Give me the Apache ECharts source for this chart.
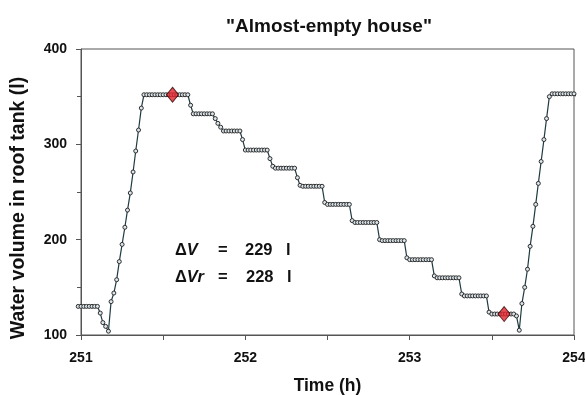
<!DOCTYPE html>
<html>
<head>
<meta charset="utf-8">
<script src="https://cdn.jsdelivr.net/npm/echarts/dist/echarts.min.js"></script>
<style>
html,body{margin:0;padding:0;background:#ffffff;}
#chart{width:585px;height:395px;}
</style>
</head>
<body>
<div id="chart"></div>
<script>
// Sample times (h) and water volume (l), one sample per minute
const timeH = [
  250.983, 251.000, 251.017, 251.033, 251.050, 251.067, 251.083, 251.100, 251.117, 251.133,
  251.150, 251.167, 251.183, 251.200, 251.217, 251.233, 251.250, 251.267, 251.283, 251.300,
  251.317, 251.333, 251.350, 251.367, 251.383, 251.400, 251.417, 251.433, 251.450, 251.467,
  251.483, 251.500, 251.517, 251.533, 251.550, 251.567, 251.583, 251.600, 251.617, 251.633,
  251.650, 251.667, 251.683, 251.700, 251.717, 251.733, 251.750, 251.767, 251.783, 251.800,
  251.817, 251.833, 251.850, 251.867, 251.883, 251.900, 251.917, 251.933, 251.950, 251.967,
  251.983, 252.000, 252.017, 252.033, 252.050, 252.067, 252.083, 252.100, 252.117, 252.133,
  252.150, 252.167, 252.183, 252.200, 252.217, 252.233, 252.250, 252.267, 252.283, 252.300,
  252.317, 252.333, 252.350, 252.367, 252.383, 252.400, 252.417, 252.433, 252.450, 252.467,
  252.483, 252.500, 252.517, 252.533, 252.550, 252.567, 252.583, 252.600, 252.617, 252.633,
  252.650, 252.667, 252.683, 252.700, 252.717, 252.733, 252.750, 252.767, 252.783, 252.800,
  252.817, 252.833, 252.850, 252.867, 252.883, 252.900, 252.917, 252.933, 252.950, 252.967,
  252.983, 253.000, 253.017, 253.033, 253.050, 253.067, 253.083, 253.100, 253.117, 253.133,
  253.150, 253.167, 253.183, 253.200, 253.217, 253.233, 253.250, 253.267, 253.283, 253.300,
  253.317, 253.333, 253.350, 253.367, 253.383, 253.400, 253.417, 253.433, 253.450, 253.467,
  253.483, 253.500, 253.517, 253.533, 253.550, 253.567, 253.583, 253.600, 253.617, 253.633,
  253.650, 253.667, 253.683, 253.700, 253.717, 253.733, 253.750, 253.767, 253.783, 253.800,
  253.817, 253.833, 253.850, 253.867, 253.883, 253.900, 253.917, 253.933, 253.950, 253.967,
  253.983, 254.000, 254.017, 254.033
];
const volumeL = [
  130, 130, 130, 130, 130, 130, 130, 130, 123, 113,
  109, 104, 135, 144, 158, 177, 195, 213, 231, 249,
  271, 293, 315, 338, 352, 352, 352, 352, 352, 352,
  352, 352, 352, 352, 352, 352, 352, 352, 352, 352,
  352, 341, 332, 332, 332, 332, 332, 332, 332, 332,
  327, 322, 318, 314, 314, 314, 314, 314, 314, 314,
  305, 294, 294, 294, 294, 294, 294, 294, 294, 294,
  285, 277, 275, 275, 275, 275, 275, 275, 275, 275,
  265, 257, 256, 256, 256, 256, 256, 256, 256, 256,
  239, 237, 237, 237, 237, 237, 237, 237, 237, 237,
  220, 218, 218, 218, 218, 218, 218, 218, 218, 218,
  200, 199, 199, 199, 199, 199, 199, 199, 199, 199,
  181, 179, 179, 179, 179, 179, 179, 179, 179, 179,
  162, 160, 160, 160, 160, 160, 160, 160, 160, 160,
  143, 141, 141, 141, 141, 141, 141, 141, 141, 141,
  124, 122, 122, 122, 122, 122, 122, 122, 122, 122,
  120, 105, 133, 150, 169, 193, 214, 237, 259, 282,
  305, 327, 350, 353, 353, 353, 353, 353, 353, 353,
  353, 353, 350, 347
];
// Highlighted points (red diamonds)
const markTime = [251.557, 253.575];
const markVolume = [352, 122];
// Axis ticks
const xTicks = [251, 252, 253, 254];
const yTicks = [100, 200, 300, 400];
// Texts
const chartTitle = '"Almost-empty house"';
const xTitle = 'Time (h)';
const yTitle = 'Water volume in roof tank (l)';
const annoLabels = ['{d|Δ}{v|V}', '{d|Δ}{v|Vr}'];
const annoValues = ['229', '228'];
const annoUnit = 'l';

const FONT = '"Liberation Sans", Arial, Helvetica, sans-serif';
const xMax = xTicks[xTicks.length - 1];
const lineData = timeH.map((t, i) => {
  const item = { value: [t, volumeL[i]] };
  if (t > xMax) item.symbol = 'none';
  return item;
});
const markData = markTime.map((t, i) => [t, markVolume[i]]);

const rich = {
  d: { fontFamily: FONT, fontWeight: 'bold', fontSize: 16.5, fill: '#111' },
  v: { fontFamily: FONT, fontWeight: 'bold', fontStyle: 'italic', fontSize: 16.5, fill: '#111' }
};
const annoY = [250, 277];
const graphics = [];
annoLabels.forEach((lab, i) => {
  graphics.push({ type: 'text', x: 175, y: annoY[i], style: { text: lab, rich: rich, verticalAlign: 'middle', align: 'left', fill: '#111' } });
  graphics.push({ type: 'text', x: 218, y: annoY[i], style: { text: '=', font: 'bold 16.5px ' + FONT, verticalAlign: 'middle', fill: '#111' } });
  graphics.push({ type: 'text', x: 245 + i, y: annoY[i], style: { text: annoValues[i], font: 'bold 16.5px ' + FONT, verticalAlign: 'middle', fill: '#111' } });
  graphics.push({ type: 'text', x: 286 + i, y: annoY[i], style: { text: annoUnit, font: 'bold 16.5px ' + FONT, verticalAlign: 'middle', fill: '#111' } });
});
graphics.push({
  type: 'text', x: 19, y: 208, rotation: Math.PI / 2,
  style: { text: yTitle, font: 'bold 19.5px ' + FONT, align: 'center', verticalAlign: 'middle', fill: '#111' }
});

const chart = echarts.init(document.getElementById('chart'), null, { renderer: 'canvas' });
chart.setOption({
  animation: false,
  backgroundColor: '#ffffff',
  title: {
    text: chartTitle, left: 221, top: 12,
    textStyle: { fontFamily: FONT, fontWeight: 'bold', fontSize: 19, color: '#111' }
  },
  grid: {
    left: 81, right: 11, top: 49, bottom: 60, containLabel: false, outerBoundsMode: 'none',
    show: true, borderColor: '#555', borderWidth: 1, backgroundColor: 'transparent'
  },
  xAxis: {
    type: 'value', min: xTicks[0], max: xMax, interval: xTicks[1] - xTicks[0],
    name: xTitle, nameLocation: 'middle', nameGap: 42,
    nameTextStyle: { fontFamily: FONT, fontWeight: 'bold', fontSize: 17.5, color: '#111' },
    axisLine: { show: true, lineStyle: { color: '#555', width: 1 } },
    axisTick: { show: true, length: 5, lineStyle: { color: '#555' } },
    minorTick: { show: true, splitNumber: 2, length: 5, lineStyle: { color: '#555' } },
    splitLine: { show: false },
    axisLabel: { fontFamily: FONT, fontWeight: 'bold', fontSize: 14, color: '#111', margin: 16 }
  },
  yAxis: {
    type: 'value', min: yTicks[0], max: yTicks[yTicks.length - 1], interval: yTicks[1] - yTicks[0],
    axisLine: { show: true, lineStyle: { color: '#555', width: 1 } },
    axisTick: { show: true, length: 5, lineStyle: { color: '#555' } },
    minorTick: { show: true, splitNumber: 2, length: 4, lineStyle: { color: '#555' } },
    splitLine: { show: false },
    axisLabel: { fontFamily: FONT, fontWeight: 'bold', fontSize: 14, color: '#111', margin: 14 }
  },
  graphic: graphics,
  series: [
    {
      type: 'line', data: lineData, clip: false, z: 2,
      symbol: 'circle', symbolSize: 4, showAllSymbol: true,
      lineStyle: { color: '#1f3a40', width: 1.2 },
      itemStyle: { color: '#dbe5ea', borderColor: '#2e2e2e', borderWidth: 1 }
    },
    {
      type: 'scatter', data: markData, z: 3,
      symbol: 'diamond', symbolSize: [12, 15],
      itemStyle: { color: '#e3202a', borderColor: '#3a0a0a', borderWidth: 1 }
    }
  ]
});
</script>
</body>
</html>
